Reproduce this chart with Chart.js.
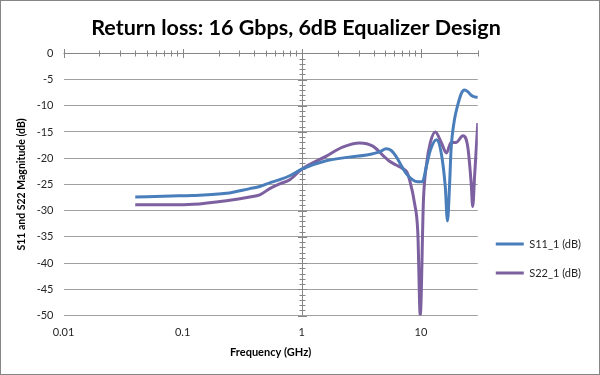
<!DOCTYPE html>
<html lang="en">

<head>
  <meta charset="UTF-8" />
  <title>Return loss</title>
  <script src="https://cdn.jsdelivr.net/npm/chart.js"></script>
  <style>
    body { margin: 0; background: #fff; }
    #wrap { width: 598px; height: 373px; border: 1px solid #868686; }
  </style>
</head>

<body>
  <div id="wrap"><canvas id="myChart"></canvas></div>

  <script>
    // values (frequency in GHz, magnitude in dB)
    const s11Freq = [0.04, 0.08, 0.12, 0.233, 0.366, 0.444, 0.538, 0.653, 0.8, 1.0, 1.6, 2.5, 3.5, 4.5, 5.1, 5.6,
      6.2, 7.0, 7.5, 8.5, 9.4, 10.3, 11.1, 12.0, 13.5, 14.8, 16.0, 16.7, 17.4, 17.9, 19.1, 20.3, 21.9, 23.2,
      24.7, 26.4, 28.2, 30];
    const s11Db = [-27.4, -27.2, -27.1, -26.7, -25.8, -25.4, -24.7, -24.1, -23.3, -22.1, -20.5, -19.8, -19.4,
      -18.8, -18.2, -18.5, -19.7, -21.8, -22.9, -24.1, -24.5, -24.5, -21.6, -18.5, -16.5, -19.0, -25.4, -32.0,
      -25.0, -18.4, -12.7, -10.0, -7.6, -7.0, -7.3, -8.0, -8.3, -8.4];

    const s22Freq = [0.04, 0.08, 0.122, 0.233, 0.366, 0.444, 0.538, 0.653, 0.792, 1.0, 1.61, 2.2, 3.06, 3.95,
      4.77, 5.45, 6.2, 7.05, 7.6, 8.02, 8.84, 9.42, 9.87, 10.5, 11.07, 12.0, 13.2, 14.8, 16.4, 17.9, 19.8, 22.5,
      24.7, 26.4, 27.2, 28.2, 30];
    const s22Db = [-28.9, -28.9, -28.8, -28.1, -27.4, -27.0, -25.8, -24.9, -24.1, -22.1, -19.6, -17.9, -17.1,
      -17.7, -19.4, -20.6, -21.3, -22.0, -22.6, -24.1, -28.6, -34.3, -50, -28, -21.6, -17.0, -15.0, -17.0, -19.0,
      -17.0, -17.0, -15.7, -17.8, -24.7, -29.2, -23.5, -13.3];

    const seriesNames = ["S11_1 (dB)", "S22_1 (dB)"];
    const seriesColors = ["#4a7ebb", "#7d60a0"];
    const xTickValues = [0.01, 0.1, 1, 10];
    const xTickLabels = ["0.01", "0.1", "1", "10"];

    Chart.defaults.font.family = "Lato, 'Open Sans', sans-serif";
    Chart.defaults.color = "#262626";

    // axes crossing at 0 dB and 1 GHz, with Excel style tick marks
    const crossAxes = {
      id: "crossAxes",
      beforeDatasetsDraw(chart) {
        const { ctx, chartArea, scales } = chart;
        const x = scales.x, y = scales.y;
        const y0 = Math.round(y.getPixelForValue(0)) + 0.5;
        const x1 = Math.round(x.getPixelForValue(1)) + 0.5;
        ctx.save();
        ctx.strokeStyle = "#868686";
        ctx.lineWidth = 1;
        ctx.beginPath();
        ctx.moveTo(chartArea.left, y0);
        ctx.lineTo(chartArea.right, y0);
        ctx.moveTo(x1, chartArea.top);
        ctx.lineTo(x1, chartArea.bottom);
        xTickValues.forEach((d) => {
          for (let m = 1; m <= 9; m++) {
            const f = d * m;
            if (f > x.max + 1e-9) break;
            const px = Math.round(x.getPixelForValue(f)) + 0.5;
            const len = m === 1 ? 4.5 : 3;
            ctx.moveTo(px, y0 - len);
            ctx.lineTo(px, y0 + len);
          }
        });
        for (let v = y.min; v <= y.max; v++) {
          const py = Math.round(y.getPixelForValue(v)) + 0.5;
          const len = v % 5 === 0 ? 4.5 : 3;
          ctx.moveTo(x1 - len, py);
          ctx.lineTo(x1 + len, py);
        }
        ctx.stroke();
        ctx.restore();
      },
    };

    const ctx = document.getElementById("myChart").getContext("2d");
    const chart = new Chart(ctx, {
      type: "line",
      data: {
        datasets: [
          {
            label: seriesNames[0],
            data: s11Freq.map((f, i) => ({ x: f, y: s11Db[i] })),
            borderColor: seriesColors[0],
            backgroundColor: seriesColors[0],
            borderWidth: 3,
            pointRadius: 0,
            cubicInterpolationMode: "monotone",
          },
          {
            label: seriesNames[1],
            data: s22Freq.map((f, i) => ({ x: f, y: s22Db[i] })),
            borderColor: seriesColors[1],
            backgroundColor: seriesColors[1],
            borderWidth: 3,
            pointRadius: 0,
            cubicInterpolationMode: "monotone",
          },
        ],
      },
      options: {
        responsive: true,
        maintainAspectRatio: false,
        animation: false,
        layout: { padding: { right: 8 } },
        plugins: {
          title: {
            display: true,
            text: "Return loss: 16 Gbps, 6dB Equalizer Design",
            color: "#000",
            font: { size: 21.5, weight: "bold" },
            padding: { top: 14, bottom: 12.5 },
          },
          legend: {
            position: "right",
            align: "center",
            title: { display: true, text: "", padding: { top: 129, bottom: 0 }, font: { size: 11 } },
            labels: {
              usePointStyle: true,
              pointStyle: "line",
              pointStyleWidth: 28,
              padding: 18,
              color: "#262626",
              font: { size: 11 },
            },
          },
          tooltip: { enabled: false },
        },
        scales: {
          x: {
            type: "logarithmic",
            min: 0.01,
            max: 30,
            grid: { display: false, drawTicks: false },
            border: { display: false },
            afterBuildTicks: (scale) => {
              scale.ticks = xTickValues.map((v) => ({ value: v }));
            },
            afterFit: (scale) => { scale.height = 58.5; },
            ticks: {
              padding: 10,
              maxRotation: 0,
              font: { size: 11 },
              callback: (value) => xTickLabels[xTickValues.indexOf(value)],
            },
            title: {
              display: true,
              text: "Frequency (GHz)",
              color: "#000",
              font: { size: 11, weight: "bold" },
              padding: { top: 0, bottom: 15 },
            },
          },
          y: {
            min: -50,
            max: 0,
            grid: { color: "#a0a0a0", drawTicks: false },
            border: { display: false },
            afterFit: (scale) => { scale.width = 62.5; },
            ticks: { stepSize: 5, padding: 10, font: { size: 11 } },
            title: {
              display: true,
              text: "S11 and S22 Magnitude (dB)",
              color: "#000",
              font: { size: 10.5, weight: "bold" },
              padding: { top: 14, bottom: 0 },
            },
          },
        },
      },
      plugins: [crossAxes],
    });
  </script>
</body>

</html>
